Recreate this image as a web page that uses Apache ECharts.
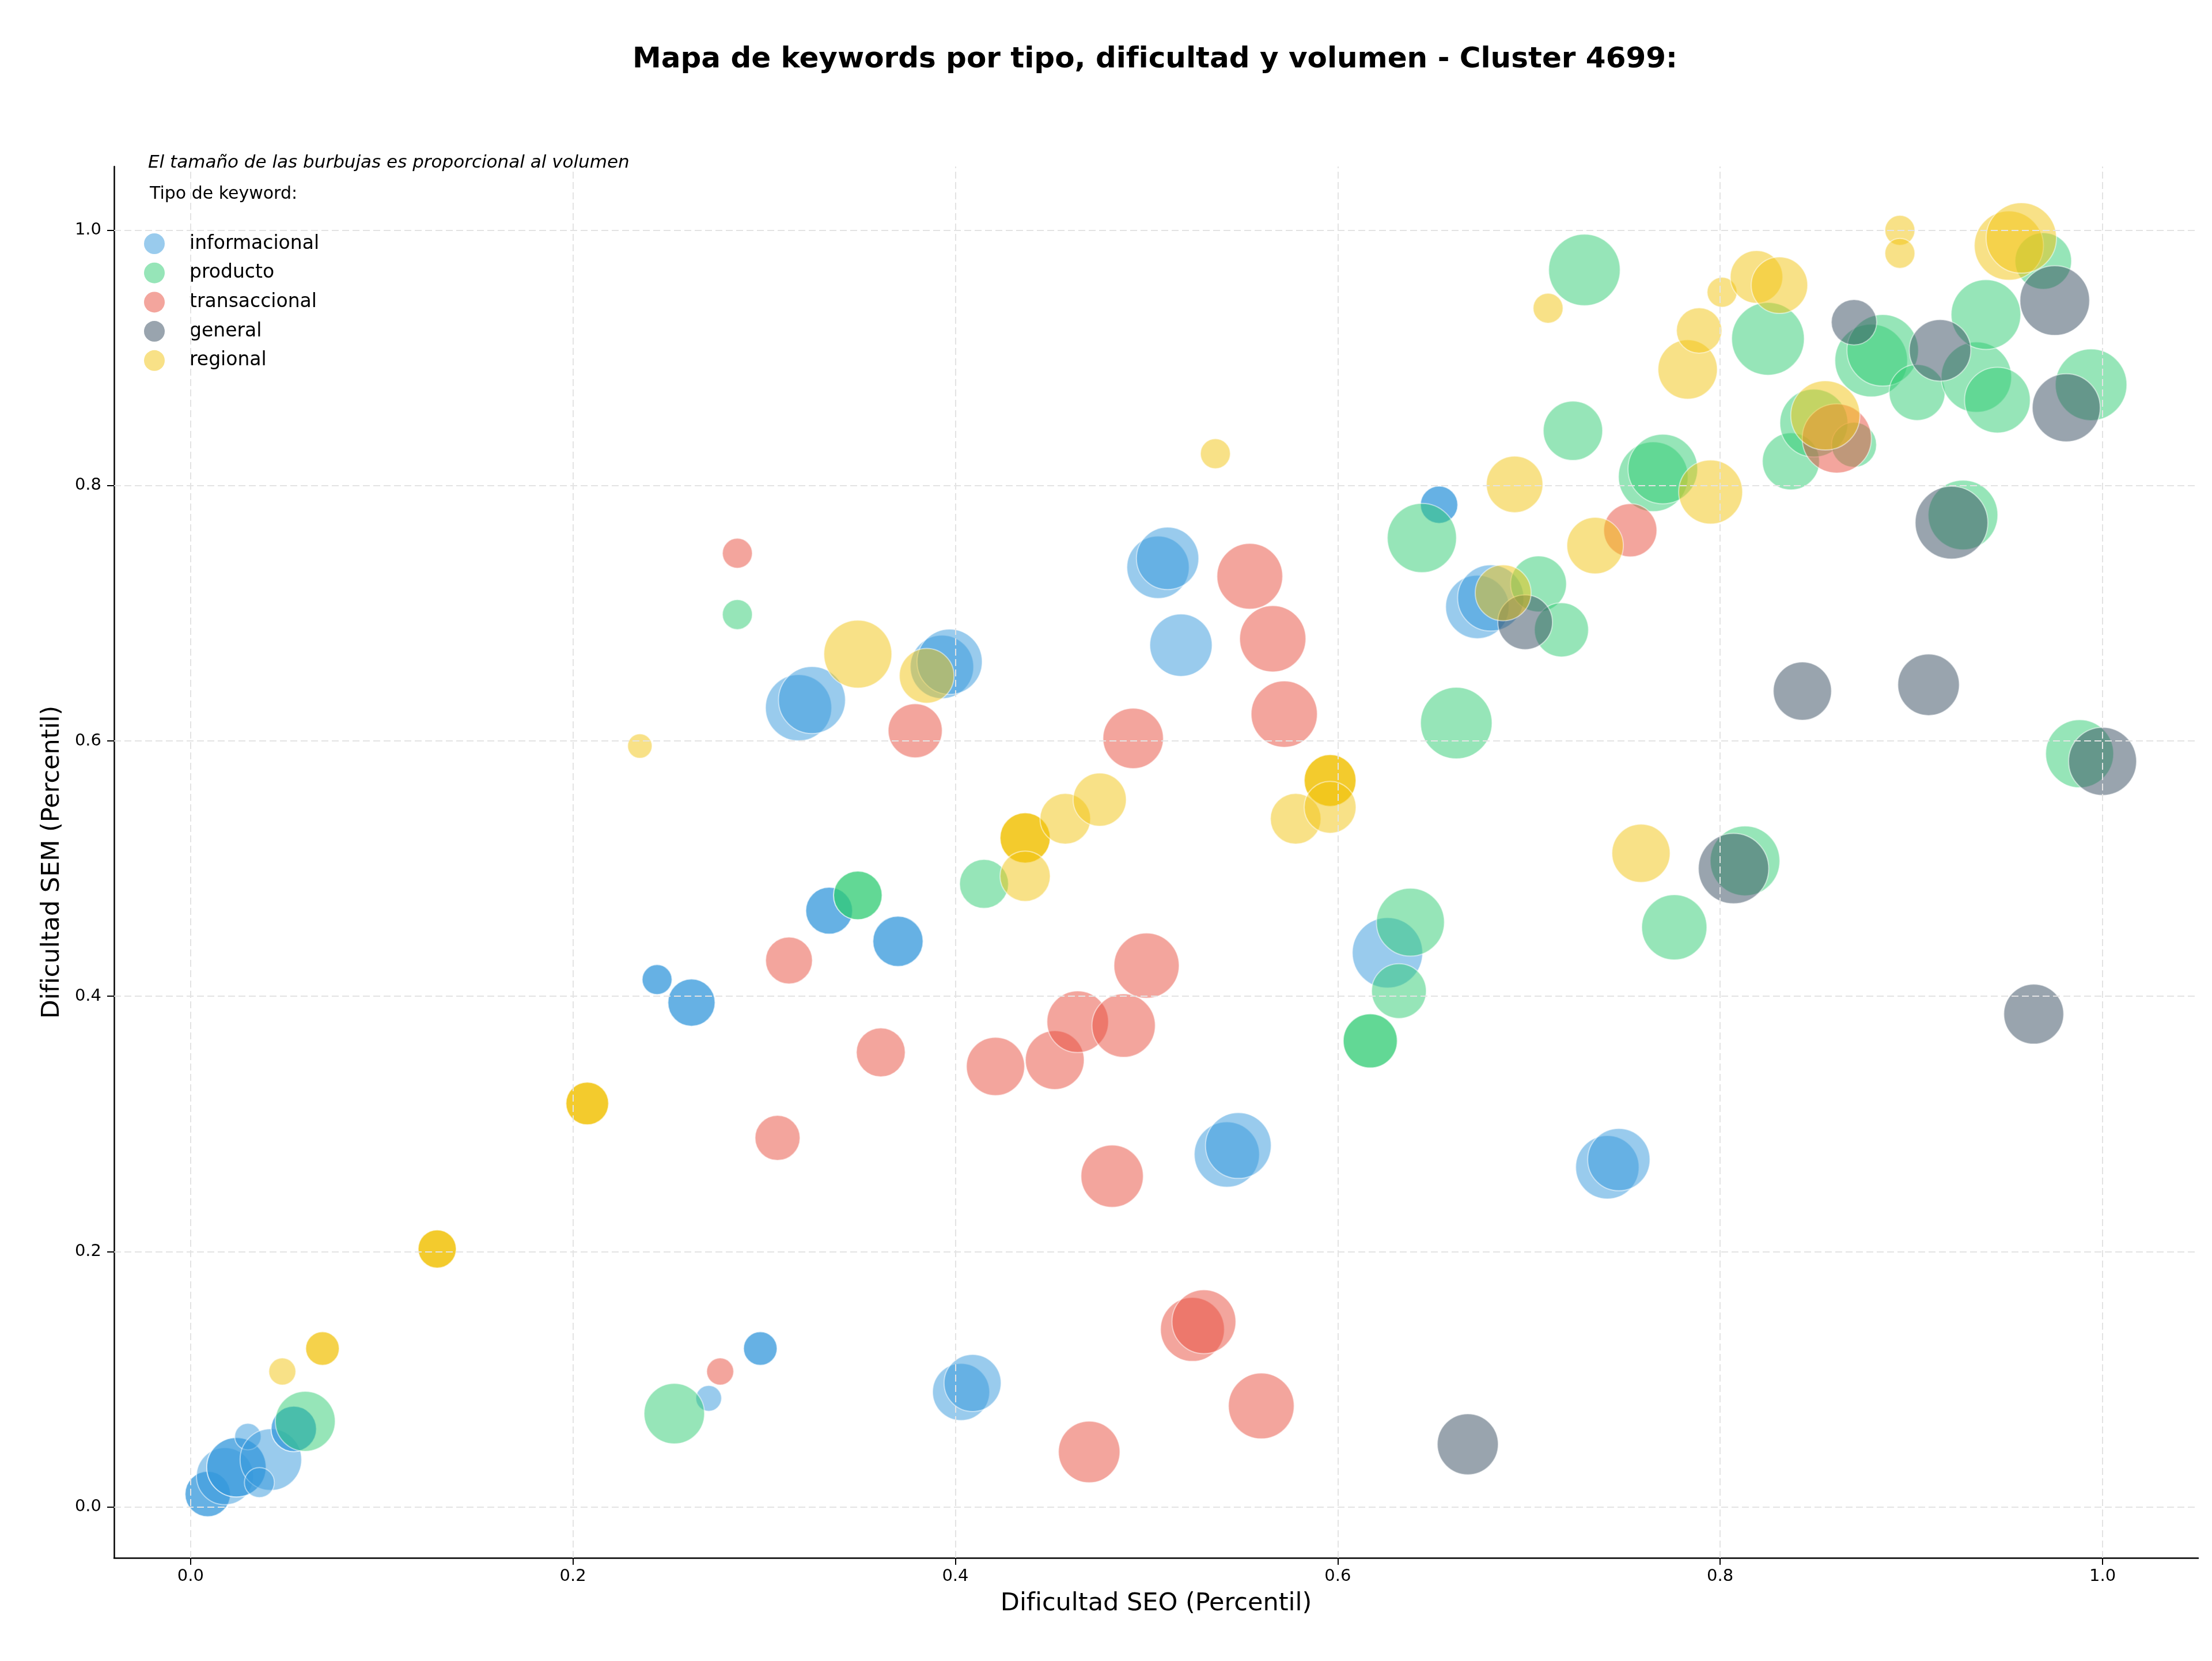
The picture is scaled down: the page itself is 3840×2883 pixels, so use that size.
<!DOCTYPE html>
<html lang="es">
<head>
<meta charset="UTF-8">
<title>Mapa de keywords - Cluster 4699</title>
<script src="https://cdn.jsdelivr.net/npm/echarts@6/dist/echarts.min.js"></script>
<style>
  html, body { margin: 0; padding: 0; background: #fff; }
  #main { width: 3840px; height: 2883px; }
</style>
</head>
<body>
<div id="main"></div>
<script>
// tipos de keyword (orden de dibujo y de leyenda)
var tipos = ['informacional', 'producto', 'transaccional', 'general', 'regional'];
var colores = ['#3498db', '#2ecc71', '#e74c3c', '#34495e', '#f1c40f'];
var ticks = [0, 0.2, 0.4, 0.6, 0.8, 1.0];

// [dificultad SEO, dificultad SEM, volumen]  (las repetidas se solapan)
var informacional = [
  [0.009, 0.010, 62], [0.009, 0.010, 62], [0.018, 0.024, 98],
  [0.024, 0.031, 106], [0.024, 0.031, 106], [0.030, 0.055, 21],
  [0.042, 0.037, 114], [0.036, 0.019, 27], [0.054, 0.061, 62], [0.054, 0.061, 62],
  [0.271, 0.085, 20], [0.298, 0.124, 34], [0.298, 0.124, 34],
  [0.403, 0.090, 98], [0.409, 0.097, 98], [0.542, 0.276, 128], [0.548, 0.283, 130],
  [0.741, 0.266, 121], [0.747, 0.272, 117], [0.244, 0.413, 27], [0.244, 0.413, 27],
  [0.262, 0.395, 67], [0.262, 0.395, 67], [0.334, 0.467, 66], [0.334, 0.467, 66],
  [0.370, 0.443, 76], [0.370, 0.443, 76], [0.318, 0.626, 132], [0.325, 0.632, 135],
  [0.393, 0.658, 121], [0.397, 0.662, 128], [0.506, 0.736, 117], [0.511, 0.743, 117],
  [0.518, 0.675, 117], [0.626, 0.434, 149], [0.653, 0.785, 42], [0.653, 0.785, 42],
  [0.673, 0.705, 121], [0.680, 0.712, 132]
];
var producto = [
  [0.060, 0.067, 108], [0.253, 0.073, 110], [0.286, 0.699, 27],
  [0.349, 0.479, 71], [0.349, 0.479, 71], [0.415, 0.488, 72],
  [0.617, 0.365, 88], [0.617, 0.365, 88], [0.632, 0.404, 90], [0.638, 0.458, 139],
  [0.662, 0.614, 154], [0.644, 0.759, 144], [0.705, 0.723, 94], [0.717, 0.687, 88],
  [0.723, 0.843, 106], [0.729, 0.969, 154], [0.765, 0.807, 146], [0.770, 0.813, 146],
  [0.776, 0.454, 128], [0.813, 0.506, 146], [0.825, 0.915, 159], [0.837, 0.819, 98],
  [0.849, 0.849, 139], [0.870, 0.832, 61], [0.879, 0.898, 159], [0.885, 0.906, 154],
  [0.903, 0.873, 94], [0.927, 0.777, 146], [0.934, 0.885, 149], [0.939, 0.934, 146],
  [0.945, 0.867, 130], [0.969, 0.976, 96], [0.988, 0.590, 139], [0.994, 0.879, 154]
];
var transaccional = [
  [0.277, 0.106, 22], [0.286, 0.747, 27], [0.307, 0.289, 61], [0.313, 0.428, 66],
  [0.361, 0.356, 72], [0.379, 0.608, 88], [0.421, 0.345, 102], [0.452, 0.350, 104],
  [0.464, 0.380, 114], [0.470, 0.043, 114], [0.482, 0.259, 117], [0.488, 0.377, 121],
  [0.493, 0.602, 110], [0.500, 0.424, 128], [0.524, 0.139, 123], [0.530, 0.145, 123],
  [0.554, 0.729, 130], [0.560, 0.079, 130], [0.566, 0.680, 132], [0.572, 0.621, 132],
  [0.753, 0.765, 85], [0.861, 0.837, 144]
];
var general = [
  [0.668, 0.049, 112], [0.698, 0.693, 90], [0.807, 0.500, 149], [0.843, 0.639, 102],
  [0.870, 0.928, 62], [0.909, 0.644, 114], [0.915, 0.906, 114], [0.921, 0.771, 159],
  [0.964, 0.386, 108], [0.975, 0.945, 146], [0.981, 0.861, 139], [1.000, 0.584, 139]
];
var regional = [
  [0.048, 0.106, 22], [0.069, 0.124, 34], [0.069, 0.124, 34],
  [0.129, 0.202, 44], [0.129, 0.202, 44], [0.129, 0.202, 44],
  [0.2075, 0.316, 55], [0.2075, 0.316, 55], [0.2075, 0.316, 55],
  [0.235, 0.596, 18], [0.349, 0.668, 139], [0.385, 0.651, 90],
  [0.4365, 0.524, 76], [0.4365, 0.524, 76], [0.4365, 0.524, 76],
  [0.4365, 0.494, 76], [0.4575, 0.539, 77], [0.4755, 0.554, 85], [0.536, 0.825, 27],
  [0.578, 0.539, 77], [0.596, 0.569, 81], [0.596, 0.569, 81], [0.596, 0.569, 81],
  [0.596, 0.548, 81], [0.6865, 0.716, 94], [0.6925, 0.801, 96], [0.710, 0.939, 27],
  [0.7346, 0.753, 96], [0.7586, 0.512, 102], [0.783, 0.891, 106], [0.789, 0.9215, 62],
  [0.795, 0.795, 123], [0.801, 0.9515, 27], [0.819, 0.9635, 83], [0.831, 0.957, 96],
  [0.855, 0.855, 144], [0.894, 1.000, 27], [0.894, 0.982, 27],
  [0.951, 0.988, 144], [0.9575, 0.994, 149]
];

var datos = [informacional, producto, transaccional, general, regional];
var fuente = 'DejaVu Sans';

var myChart = echarts.init(document.getElementById('main'), null, { renderer: 'canvas' });

// rejilla discontinua en los valores de las marcas
var series = [{
  type: 'scatter',
  data: [],
  silent: true,
  z: 1,
  markLine: {
    silent: true,
    symbol: 'none',
    label: { show: false },
    lineStyle: { color: '#e3e3e3', type: [12, 6], width: 2 },
    data: ticks.map(function (v) { return { xAxis: v }; })
      .concat(ticks.map(function (v) { return { yAxis: v }; }))
  }
}];

tipos.forEach(function (t, i) {
  series.push({
    name: t,
    type: 'scatter',
    data: datos[i],
    z: 2,
    symbolSize: function (v) { return 10 * Math.sqrt(v[2]); },
    itemStyle: { color: colores[i], opacity: 0.5, borderColor: '#ffffff', borderWidth: 2 },
    emphasis: { disabled: true }
  });
});

function eje(nombre, gap, margen) {
  return {
    type: 'value',
    min: -0.04,
    max: 1.05,
    name: nombre,
    nameLocation: 'middle',
    nameGap: gap,
    nameTextStyle: { fontFamily: fuente, fontSize: 43, color: '#000' },
    axisLine: { show: true, onZero: false, lineStyle: { color: '#000', width: 2.5 } },
    axisTick: { show: true, length: 12, lineStyle: { color: '#000', width: 2 }, customValues: ticks },
    axisLabel: {
      fontFamily: fuente, fontSize: 29, color: '#000', margin: margen,
      customValues: ticks,
      formatter: function (v) { return v.toFixed(1); }
    },
    splitLine: { show: false }
  };
}

myChart.setOption({
  animation: false,
  backgroundColor: '#fff',
  grid: { left: 198, right: 24, top: 289, bottom: 179, containLabel: false },
  xAxis: eje('Dificultad SEO (Percentil)', 58, 18),
  yAxis: eje('Dificultad SEM (Percentil)', 86, 22),
  legend: {
    data: tipos,
    orient: 'vertical',
    left: 245,
    top: 400,
    itemWidth: 36,
    itemHeight: 36,
    itemGap: 14.7,
    icon: 'circle',
    selectedMode: false,
    itemStyle: { opacity: 0.5, borderWidth: 0 },
    textStyle: { fontFamily: fuente, fontSize: 33, color: '#000', lineHeight: 36, padding: [0, 0, 0, 38] }
  },
  graphic: [
    {
      type: 'text', x: 2005, y: 104,
      style: {
        text: 'Mapa de keywords por tipo, dificultad y volumen - Cluster 4699:',
        font: 'bold 50px "DejaVu Sans"', fill: '#000', textAlign: 'center', textVerticalAlign: 'middle'
      }
    },
    {
      type: 'text', x: 257, y: 283,
      style: {
        text: 'El tamaño de las burbujas es proporcional al volumen',
        font: 'italic 31px "DejaVu Sans"', fill: '#000', textAlign: 'left', textVerticalAlign: 'middle'
      }
    },
    {
      type: 'text', x: 260, y: 337,
      style: {
        text: 'Tipo de keyword:',
        font: '30px "DejaVu Sans"', fill: '#000', textAlign: 'left', textVerticalAlign: 'middle'
      }
    }
  ],
  series: series
});
</script>
</body>
</html>
